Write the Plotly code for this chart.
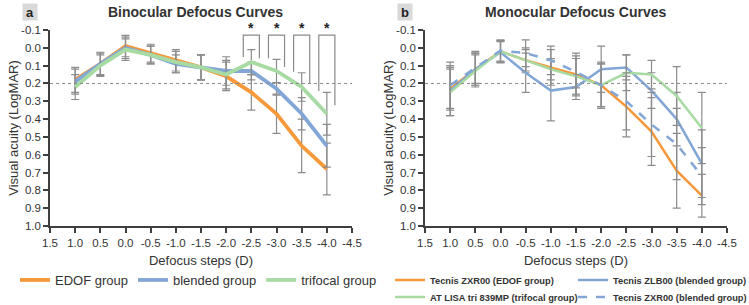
import plotly.graph_objects as go

# ---------------- data ----------------
defocus = [1.0, 0.5, 0.0, -0.5, -1.0, -1.5, -2.0, -2.5, -3.0, -3.5, -4.0]

# Binocular
bino_edof = [0.18, 0.09, -0.01, 0.03, 0.07, 0.11, 0.16, 0.25, 0.37, 0.55, 0.68]
bino_edof_sd = [0.07, 0.065, 0.06, 0.05, 0.06, 0.07, 0.08, 0.10, 0.11, 0.15, 0.145]
bino_blend = [0.19, 0.09, 0.00, 0.04, 0.09, 0.11, 0.13, 0.13, 0.23, 0.37, 0.55]
bino_blend_sd = [0.07, 0.06, 0.06, 0.05, 0.05, 0.07, 0.08, 0.05, 0.035, 0.09, 0.12]
bino_tri = [0.22, 0.10, 0.01, 0.04, 0.08, 0.11, 0.15, 0.08, 0.13, 0.22, 0.37]
bino_tri_sd = [0.07, 0.06, 0.06, 0.05, 0.06, 0.07, 0.08, 0.07, 0.065, 0.08, 0.12]

# Monocular
mono_zxr_edof = [0.23, 0.12, 0.02, 0.07, 0.11, 0.15, 0.21, 0.33, 0.47, 0.69, 0.83]
mono_zxr_edof_sd = [0.12, 0.09, 0.06, 0.07, 0.10, 0.12, 0.13, 0.17, 0.19, 0.21, 0.12]
mono_zlb = [0.24, 0.12, 0.025, 0.14, 0.24, 0.22, 0.12, 0.11, 0.24, 0.40, 0.65]
mono_zlb_sd = [0.14, 0.09, 0.06, 0.11, 0.17, 0.07, 0.13, 0.07, 0.10, 0.15, 0.19]
mono_tri = [0.25, 0.13, 0.02, 0.07, 0.12, 0.16, 0.21, 0.14, 0.15, 0.27, 0.45]
mono_tri_sd = [0.13, 0.09, 0.06, 0.06, 0.06, 0.10, 0.12, 0.10, 0.08, 0.165, 0.20]
mono_zxr_blend = [0.21, 0.11, 0.015, 0.03, 0.07, 0.135, 0.21, 0.30, 0.43, 0.54, 0.72]
mono_zxr_blend_sd = [0.13, 0.09, 0.06, 0.075, 0.08, 0.09, 0.12, 0.16, 0.18, 0.20, 0.16]

# significance brackets (binocular): step, left-leg end, right-leg end
sig_steps = [-2.5, -3.0, -3.5, -4.0]
sig_left = [0.052, 0.058, 0.135, 0.243]
sig_right = [0.058, 0.107, 0.20, 0.322]
sig_top = -0.071
sig_star = -0.112

x_ticks = [1.5, 1.0, 0.5, 0.0, -0.5, -1.0, -1.5, -2.0, -2.5, -3.0, -3.5, -4.0, -4.5]
x_ticktext = ["1.5", "1.0", "0.5", "0.0", "-0.5", "-1.0", "-1.5", "-2.0", "-2.5",
              "-3.0", "-3.5", "-4.0", "-4.5"]
y_ticks = [-0.1, 0.0, 0.1, 0.2, 0.3, 0.4, 0.5, 0.6, 0.7, 0.8, 0.9, 1.0]
y_ticktext = ["-0.1", "0.0", "0.1", "0.2", "0.3", "0.4", "0.5", "0.6", "0.7", "0.8", "0.9", "1.0"]

# ---------------- style ----------------
ORANGE = "#F7983A"
BLUE = "#82A6D6"
GREEN = "#A7DBA3"
ERR = "#8C8C8C"
AXIS = "#3F3F3F"
TXT = "#333333"
FONT = "Liberation Sans, Arial, sans-serif"
W, H = 749, 305
Y_RANGE = [1.0, -0.1]

fig = go.Figure()


def add(x, y, sd, color, name, xa, ya, legend, width, dash="solid"):
    fig.add_trace(go.Scatter(
        x=x, y=y, mode="lines", name=name, xaxis=xa, yaxis=ya, legend=legend,
        line=dict(color=color, width=width, dash=dash),
        error_y=dict(type="data", array=sd, visible=True, color=ERR,
                     thickness=1.2, width=4),
        hoverinfo="skip",
    ))


add(defocus, bino_edof, bino_edof_sd, ORANGE, "EDOF group", "x", "y", "legend", 3.8)
add(defocus, bino_blend, bino_blend_sd, BLUE, "blended group", "x", "y", "legend", 3.8)
add(defocus, bino_tri, bino_tri_sd, GREEN, "trifocal group", "x", "y", "legend", 3.8)

add(defocus, mono_zxr_edof, mono_zxr_edof_sd, ORANGE, "<b>Tecnis ZXR00 (EDOF group)</b>",
    "x2", "y2", "legend2", 2.5)
add(defocus, mono_zlb, mono_zlb_sd, BLUE, "<b>Tecnis ZLB00 (blended group)</b>",
    "x2", "y2", "legend2", 2.5)
add(defocus, mono_tri, mono_tri_sd, GREEN, "<b>AT LISA tri 839MP (trifocal group)</b>",
    "x2", "y2", "legend3", 2.5)
add(defocus, mono_zxr_blend, mono_zxr_blend_sd, BLUE, "<b>Tecnis ZXR00 (blended group)</b>",
    "x2", "y2", "legend3", 2.5, dash="dash")

# domains from pixel layout
yd = [1 - 226 / H, 1 - 30 / H]
xd1 = [50 / W, 352 / W]
xd2 = [425 / W, 727 / W]

xax = dict(range=[1.5, -4.5], tickvals=x_ticks, ticktext=x_ticktext, automargin=False,
           showline=True, linecolor=AXIS, linewidth=1.5, ticks="outside",
           ticklen=5, tickwidth=1.5, tickcolor=AXIS, showgrid=False, zeroline=False,
           tickfont=dict(size=11.5, color=TXT, family=FONT),
           title=dict(text="Defocus steps (D)", font=dict(size=13, color=TXT, family=FONT),
                      standoff=8))
yax = dict(range=Y_RANGE, tickvals=y_ticks, ticktext=y_ticktext, automargin=False,
           showline=True, linecolor=AXIS, linewidth=1.5, ticks="outside",
           ticklen=5, tickwidth=1.5, tickcolor=AXIS, showgrid=False, zeroline=False,
           tickfont=dict(size=11.5, color=TXT, family=FONT),
           title=dict(text="Visual acuity (LogMAR)", font=dict(size=13, color=TXT, family=FONT),
                      standoff=0))

leg_common = dict(orientation="h", xanchor="left", yanchor="middle",
                  bgcolor="rgba(0,0,0,0)", tracegroupgap=0, itemwidth=30)
fig.update_layout(
    width=W, height=H,
    margin=dict(l=0, r=0, t=0, b=0, autoexpand=False),
    paper_bgcolor="white", plot_bgcolor="white",
    font=dict(family=FONT, color=TXT),
    xaxis=dict(domain=xd1, anchor="y", **xax),
    yaxis=dict(domain=yd, anchor="x", **yax),
    xaxis2=dict(domain=xd2, anchor="y2", **xax),
    yaxis2=dict(domain=yd, anchor="x2", **yax),
    legend=dict(x=15 / W, y=1 - 280 / H, font=dict(size=13, color=TXT, family=FONT),
                **leg_common),
    legend2=dict(x=390 / W, y=1 - 280 / H, font=dict(size=9.3, color=TXT, family=FONT),
                 entrywidth=138, entrywidthmode="pixels", **leg_common),
    legend3=dict(x=390 / W, y=1 - 297 / H, font=dict(size=9.3, color=TXT, family=FONT),
                 entrywidth=138, entrywidthmode="pixels", **leg_common),
    showlegend=True,
)


def vfrac(v):
    return (Y_RANGE[0] - v) / (Y_RANGE[0] - Y_RANGE[1])


# reference dotted line at 0.2
for xr, yr in (("x", "y"), ("x2", "y2")):
    fig.add_shape(type="line", xref=xr + " domain", yref=yr, x0=0, x1=1, y0=0.2, y1=0.2,
                  line=dict(color="#8A8A8A", width=1, dash="dot"))

# significance brackets
half = 0.16
for s, l, r in zip(sig_steps, sig_left, sig_right):
    fig.add_shape(type="path", xref="x", yref="y",
                  path=f"M {s + half} {l} L {s + half} {sig_top} L {s - half} {sig_top} L {s - half} {r}",
                  line=dict(color="#8A8A8A", width=1.2))
    fig.add_annotation(x=s, y=vfrac(sig_star), xref="x", yref="y domain", text="<b>*</b>",
                       showarrow=False, font=dict(size=14, color="#222222", family=FONT),
                       xanchor="center", yanchor="middle")

# titles and panel labels
fig.add_annotation(x=195 / W, y=1 - 12 / H, xref="paper", yref="paper",
                   text="<b>Binocular Defocus Curves</b>", showarrow=False,
                   font=dict(size=14, color="#333333", family=FONT),
                   xanchor="center", yanchor="middle")
fig.add_annotation(x=575 / W, y=1 - 12 / H, xref="paper", yref="paper",
                   text="<b>Monocular Defocus Curves</b>", showarrow=False,
                   font=dict(size=14, color="#333333", family=FONT),
                   xanchor="center", yanchor="middle")
for lab, px in (("a", 29.5), ("b", 405)):
    fig.add_annotation(x=px / W, y=1 - 12 / H, xref="paper", yref="paper",
                       text=f"<b>{lab}</b>", showarrow=False, bgcolor="#D9D9D9",
                       borderpad=1, width=12, height=14,
                       font=dict(size=13, color="#222222", family=FONT),
                       xanchor="center", yanchor="middle")

fig.write_html("out.html", config={"displayModeBar": False},
               post_script="document.body.style.margin='0';")
